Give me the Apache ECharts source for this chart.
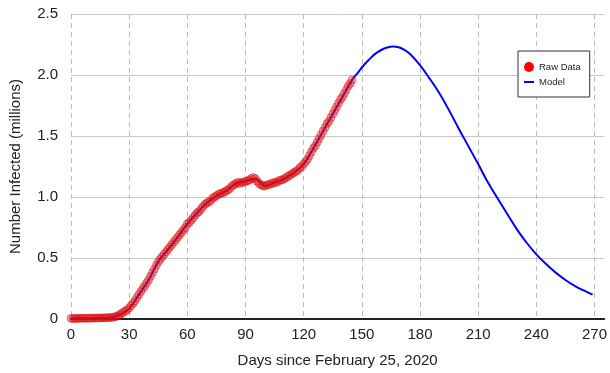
<!DOCTYPE html>
<html>
<head>
<meta charset="utf-8">
<script src="https://cdn.jsdelivr.net/npm/echarts@6/dist/echarts.min.js"></script>
<style>html,body{margin:0;padding:0;background:#fff}#c{width:610px;height:373px}</style>
</head>
<body>
<div id="c"></div>
<script>
// Raw data: day index = position (0..145), values in millions
const rawValues = [
0.005,0.005,0.005,0.005,0.005,0.006,0.006,0.006,0.006,0.007,
0.007,0.007,0.008,0.008,0.008,0.009,0.009,0.010,0.010,0.011,
0.012,0.013,0.015,0.020,0.025,0.035,0.045,0.055,0.065,0.075,
0.090,0.110,0.130,0.150,0.175,0.200,0.225,0.250,0.270,0.295,
0.320,0.350,0.380,0.410,0.440,0.470,0.490,0.510,0.530,0.550,
0.570,0.590,0.610,0.630,0.650,0.670,0.690,0.710,0.730,0.750,
0.780,0.790,0.810,0.830,0.850,0.870,0.880,0.900,0.920,0.940,
0.950,0.960,0.970,0.990,1.000,1.010,1.020,1.030,1.030,1.040,
1.050,1.060,1.070,1.090,1.100,1.110,1.120,1.110,1.120,1.120,
1.130,1.130,1.140,1.150,1.160,1.150,1.130,1.110,1.100,1.090,
1.090,1.100,1.100,1.110,1.110,1.120,1.120,1.130,1.140,1.140,
1.150,1.160,1.170,1.180,1.190,1.200,1.210,1.220,1.240,1.250,
1.270,1.290,1.310,1.340,1.370,1.400,1.420,1.450,1.480,1.510,
1.540,1.570,1.600,1.620,1.650,1.680,1.710,1.740,1.770,1.800,
1.820,1.850,1.880,1.910,1.930,1.960
];
const modelDays = [0,5,10,15,20,25,30,35,40,45,50,55,60,65,70,75,80,85,90,95,100,105,110,115,120,125,130,135,140,145,148,151,154,157,160,163,166,169,172,175,180,185,190,195,200,205,210,215,220,225,230,235,240,245,250,255,260,265,269];
const modelValues = [0.006,0.006,0.007,0.009,0.012,0.035,0.085,0.2,0.32,0.47,0.57,0.67,0.78,0.87,0.95,1.01,1.05,1.11,1.13,1.15,1.09,1.12,1.15,1.2,1.27,1.4,1.54,1.68,1.82,1.96,2.02,2.08,2.13,2.175,2.205,2.225,2.234,2.228,2.205,2.17,2.08,1.97,1.85,1.71,1.56,1.415,1.27,1.12,0.99,0.86,0.735,0.625,0.53,0.45,0.38,0.32,0.27,0.23,0.2];
const xTicks = [0,30,60,90,120,150,180,210,240,270];
const yTicks = [0,0.5,1.0,1.5,2.0,2.5];

const rawData = rawValues.map((v,i)=>[i,v]);
const modelData = modelDays.map((d,i)=>[d,modelValues[i]]);

const chart = echarts.init(document.getElementById('c'), null, {renderer:'canvas'});
const font = 'Arial, "Liberation Sans", sans-serif';
chart.setOption({
  animation:false,
  grid:{left:70,top:14,right:3,bottom:50},
  xAxis:{
    type:'value',min:0,max:275,interval:30,
    name:'Days since February 25, 2020',nameLocation:'middle',nameGap:34,
    nameTextStyle:{fontSize:15,color:'#222',fontFamily:font},
    axisLine:{show:true,lineStyle:{color:'#222',width:2}},
    axisTick:{show:false},
    axisLabel:{fontSize:15,color:'#222',fontFamily:font,margin:8,
      formatter:v=> xTicks.indexOf(v)>=0 ? String(v) : ''},
    splitLine:{show:true,showMaxLine:false,lineStyle:{color:'#bbb',type:[5,4],width:1}}
  },
  yAxis:{
    type:'value',min:0,max:2.5,interval:0.5,
    name:'Number Infected (millions)',nameLocation:'middle',nameGap:48,
    nameTextStyle:{fontSize:15,color:'#222',fontFamily:font},
    axisLine:{show:false},axisTick:{show:false},
    axisLabel:{fontSize:15,color:'#222',fontFamily:font,margin:13,
      formatter:v=> yTicks.indexOf(v)>=0 ? (v===0?'0':v.toFixed(1)) : ''},
    splitLine:{show:true,lineStyle:{color:'#c8c8c8',width:1}}
  },
  legend:{
    left:518,top:51,orient:'vertical',
    backgroundColor:'#fff',borderColor:'#333',borderWidth:1,borderRadius:0,
    padding:[11,9,10,6],itemGap:5,itemWidth:10,itemHeight:10,
    textStyle:{fontSize:9.5,color:'#222',fontFamily:font},
    data:[
      {name:'Raw Data',icon:'circle',itemStyle:{color:'#ff0000',opacity:1,borderWidth:0}},
      {name:'Model',icon:'path://M0,4 L10,4 L10,6 L0,6 Z',itemStyle:{color:'#0000ff'}}
    ]
  },
  series:[
    {name:'Model',type:'line',data:modelData,smooth:0.4,symbol:'none',z:2,
      lineStyle:{color:'#0000ff',width:2},itemStyle:{color:'#0000ff'}},
    {name:'Raw Data',type:'scatter',data:rawData,symbolSize:8,z:3,
      itemStyle:{color:'rgba(235,20,20,0.45)',borderColor:'rgba(200,0,0,0.5)',borderWidth:1}}
  ]
});
</script>
</body>
</html>
